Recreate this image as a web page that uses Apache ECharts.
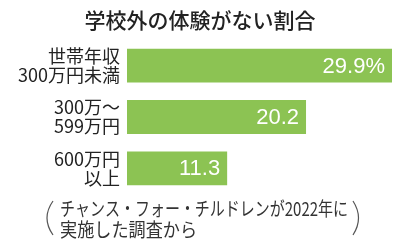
<!DOCTYPE html>
<html><head><meta charset="utf-8">
<script src="https://cdn.jsdelivr.net/npm/echarts@6/dist/echarts.min.js"></script>
<style>html,body{margin:0;padding:0;background:#fff}#c{width:400px;height:242px}</style>
</head><body><div id="c"></div>
<script>
const titleText = '学校外の体験がない割合';
const categories = ['世帯年収\n300万円未満', '300万～\n599万円', '600万円\n以上'];
const values = [29.9, 20.2, 11.3];
const valueLabels = ['29.9%', '20.2', '11.3'];
const noteLine1 = 'チャンス・フォー・チルドレンが2022年に';
const noteLine2 = '実施した調査から';

const JP = '"Noto Sans CJK JP", sans-serif';
const noteFont = '19px "Noto Sans CJK JP", sans-serif';
const mctx = document.createElement('canvas').getContext('2d');
mctx.font = noteFont;
const s1 = 288 / mctx.measureText(noteLine1).width;
const s2 = 137 / mctx.measureText(noteLine2).width;

const chart = echarts.init(document.getElementById('c'), null, {renderer: 'canvas'});
chart.setOption({
  animation: false,
  backgroundColor: '#fff',
  title: {
    text: titleText, left: 'center', top: 5,
    textStyle: {fontFamily: JP, fontSize: 21, fontWeight: 500, color: '#222'}
  },
  grid: {left: 127, right: 8, top: 40, bottom: 48, containLabel: false},
  xAxis: {type: 'value', min: 0, max: 29.9, show: false},
  yAxis: {
    type: 'category', data: categories, inverse: true,
    axisLine: {show: false}, axisTick: {show: false},
    axisLabel: {fontFamily: JP, fontSize: 18, lineHeight: 19, color: '#222', margin: 7, align: 'right'}
  },
  series: [{
    type: 'bar', data: values, barCategoryGap: '34%',
    itemStyle: {color: '#8cc353'},
    label: {
      show: true, position: 'insideRight', offset: [-2, 1],
      formatter: p => valueLabels[p.dataIndex],
      fontFamily: '"Liberation Sans", Arial, sans-serif', fontSize: 22, color: '#fff'
    }
  }],
  graphic: [
    {type: 'text', x: 60, y: 209, scaleX: s1,
      style: {x: 0, y: 0, text: noteLine1, font: noteFont, fill: '#333', verticalAlign: 'middle'}},
    {type: 'text', x: 60, y: 230, scaleX: s2,
      style: {x: 0, y: 0, text: noteLine2, font: noteFont, fill: '#333', verticalAlign: 'middle'}},
    {type: 'bezierCurve', shape: {x1: 53, y1: 201, x2: 53, y2: 235, cpx1: 41, cpy1: 218},
      style: {stroke: '#555', lineWidth: 1.2, fill: 'none'}},
    {type: 'bezierCurve', shape: {x1: 353, y1: 201, x2: 353, y2: 235, cpx1: 364, cpy1: 218},
      style: {stroke: '#555', lineWidth: 1.2, fill: 'none'}}
  ]
});
</script></body></html>
